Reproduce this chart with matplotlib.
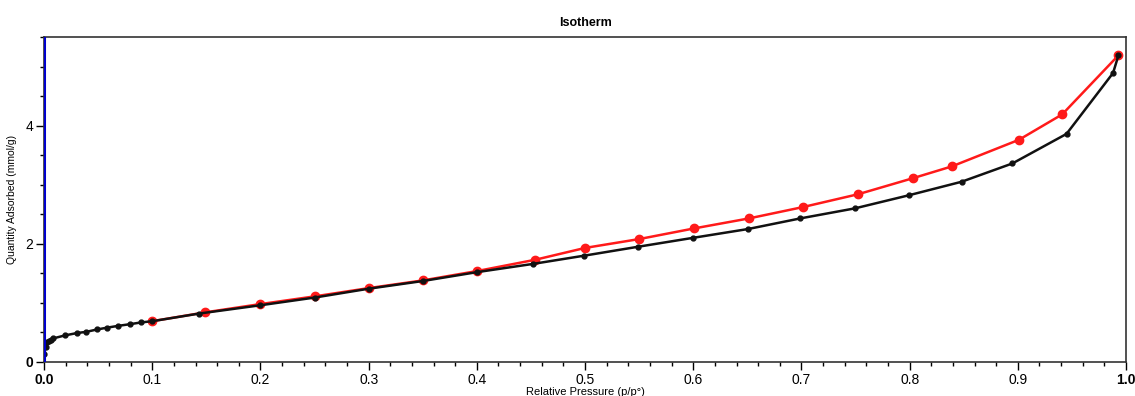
import matplotlib
matplotlib.use('Agg')
import matplotlib.pyplot as plt
from matplotlib.ticker import MultipleLocator

plt.rcParams['font.family'] = ['Liberation Sans', 'DejaVu Sans']

# adsorption branch (black)
ads_p = [0.0003, 0.0015, 0.003, 0.0045, 0.006, 0.0086, 0.0194, 0.0305, 0.039, 0.049,
         0.058, 0.068, 0.0795, 0.09, 0.1, 0.1435, 0.2, 0.25, 0.3, 0.35, 0.4,
         0.452, 0.4995, 0.549, 0.5995, 0.6506, 0.699, 0.7495, 0.799, 0.848,
         0.895, 0.945, 0.988, 0.993]
ads_q = [0.135, 0.26, 0.33, 0.36, 0.38, 0.40, 0.45, 0.49, 0.51, 0.55,
         0.58, 0.61, 0.64, 0.67, 0.69, 0.82, 0.96, 1.09, 1.24, 1.37, 1.52,
         1.66, 1.80, 1.95, 2.10, 2.25, 2.43, 2.60, 2.82, 3.05,
         3.36, 3.86, 4.89, 5.19]

# desorption branch (red)
des_p = [0.993, 0.941, 0.901, 0.839, 0.803, 0.7526, 0.701, 0.6516, 0.6007, 0.55,
         0.5, 0.454, 0.4005, 0.35, 0.3, 0.25, 0.2, 0.149, 0.1]
des_q = [5.19, 4.19, 3.76, 3.31, 3.11, 2.84, 2.62, 2.43, 2.26, 2.08,
         1.93, 1.73, 1.54, 1.38, 1.25, 1.11, 0.98, 0.84, 0.69]

fig = plt.figure(figsize=(11.35, 3.96), dpi=100)
ax = fig.add_axes([0.0388, 0.0859, 0.9533, 0.8207])

ax.plot(des_p, des_q, color='#ff1a1a', lw=1.8, marker='o', ms=6, mec='#ff1a1a', zorder=3)
ax.plot(ads_p, ads_q, color='#111111', lw=1.8, marker='o', ms=3.5, zorder=4)
ax.axvline(0, color='#0000cc', lw=2.2, zorder=5)

ax.set_xlim(0, 1.0)
ax.set_ylim(0, 5.5)
ax.xaxis.set_major_locator(MultipleLocator(0.1))
ax.xaxis.set_minor_locator(MultipleLocator(0.02))
ax.yaxis.set_major_locator(MultipleLocator(2))
ax.yaxis.set_minor_locator(MultipleLocator(0.5))
ax.tick_params(axis='both', which='major', direction='out', length=6, width=1, labelsize=10, pad=2)
ax.tick_params(axis='both', which='minor', direction='out', length=3, width=1)

xt = [round(0.1 * i, 1) for i in range(11)]
ax.set_xticks(xt)
ax.set_xticklabels([f'{v:.1f}' for v in xt])
ax.set_yticks([0, 2, 4])
ax.set_yticklabels(['0', '2', '4'])
for lbl in [ax.get_xticklabels()[0], ax.get_xticklabels()[-1], ax.get_yticklabels()[0]]:
    lbl.set_fontweight('bold')

for s in ax.spines.values():
    s.set_linewidth(1.2)
    s.set_color('#333333')

ax.set_title('Isotherm', fontsize=9, fontweight='bold', pad=8)
ax.set_xlabel('Relative Pressure (p/p°)', fontsize=8, labelpad=0)
ax.set_ylabel('Quantity Adsorbed (mmol/g)', fontsize=7.5, labelpad=6)

fig.savefig('out.png', dpi=100)
